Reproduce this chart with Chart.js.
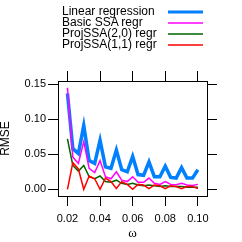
<!DOCTYPE html>
<html><head><meta charset="utf-8">
<script src="https://cdn.jsdelivr.net/npm/chart.js@4/dist/chart.umd.min.js"></script>
<style>
html,body{margin:0;padding:0;background:#fff;}
#wrap{position:relative;width:242px;height:242px;overflow:hidden;}
canvas{position:absolute;left:0;top:0;}
#legend{position:absolute;left:62px;top:6px;font:12px 'Liberation Sans',Arial,sans-serif;line-height:11px;color:#000;white-space:nowrap;}
#lg{position:absolute;left:0;top:0;}
</style></head>
<body><div id="wrap"><canvas id="c" width="242" height="242"></canvas>
<div id="legend"></div><svg id="lg" width="242" height="60"></svg></div>
<script>
const omega = [0.02, 0.0233, 0.0267, 0.03, 0.0333, 0.0367, 0.04, 0.0433, 0.0467, 0.05, 0.0533, 0.0567, 0.06, 0.0633, 0.0667, 0.07, 0.0733, 0.0767, 0.08, 0.0833, 0.0867, 0.09, 0.0933, 0.0967, 0.10];
const linearRegr = [0.137, 0.058, 0.051, 0.091, 0.041, 0.037, 0.070, 0.032, 0.030, 0.056, 0.028, 0.025, 0.047, 0.021, 0.020, 0.039, 0.018, 0.018, 0.033, 0.017, 0.016, 0.031, 0.016, 0.016, 0.028];
const basicSSA = [0.145, 0.046, 0.037, 0.068, 0.030, 0.024, 0.041, 0.018, 0.015, 0.025, 0.013, 0.011, 0.018, 0.010, 0.010, 0.016, 0.0085, 0.007, 0.011, 0.007, 0.0065, 0.0085, 0.006, 0.0055, 0.007];
const projSSA20 = [0.072, 0.034, 0.026, 0.034, 0.018, 0.015, 0.019, 0.011, 0.010, 0.013, 0.0085, 0.007, 0.0085, 0.006, 0.005, 0.006, 0.005, 0.004, 0.005, 0.004, 0.004, 0.004, 0.003, 0.003, 0.003];
const projSSA11 = [0.000, 0.038, 0.029, 0.000, 0.019, 0.015, 0.000, 0.016, 0.011, 0.001, 0.011, 0.007, 0.000, 0.007, 0.006, 0.001, 0.006, 0.005, 0.001, 0.005, 0.004, 0.001, 0.004, 0.004, 0.001];
const seriesNames = ['Linear regression', 'Basic SSA regr', 'ProjSSA(2,0) regr', 'ProjSSA(1,1) regr'];
const xTicks = [0.02, 0.04, 0.06, 0.08, 0.10];
const yTicks = [0.00, 0.05, 0.10, 0.15];
const xTitle = 'ω';
const yTitle = 'RMSE';

const colors = ['#0080ff', '#ff00ff', '#006400', '#ff0000'];
const widths = [3.5, 1.5, 1.5, 1.5];
const allSeries = [linearRegr, basicSSA, projSSA20, projSSA11];

// legend (HTML text + svg samples)
const leg = document.getElementById('legend');
const svg = document.getElementById('lg');
seriesNames.forEach((n, i) => {
  const d = document.createElement('div'); d.textContent = n; leg.appendChild(d);
  const y = 12 + 11 * i;
  const l = document.createElementNS('http://www.w3.org/2000/svg', 'line');
  l.setAttribute('x1', 168); l.setAttribute('x2', 203);
  l.setAttribute('y1', y); l.setAttribute('y2', y);
  l.setAttribute('stroke', colors[i]); l.setAttribute('stroke-width', i === 0 ? 3 : 1.5);
  svg.appendChild(l);
});

const xMin = 0.0142, xMax = 0.1056, yMin = -0.0096, yMax = 0.1547;
const tickFont = {family: "'Liberation Sans', Arial, sans-serif", size: 11};
function setTicks(arr) { return s => { s.ticks = arr.map(v => ({value: v})); }; }
function axis(pos, arr, showLabels, size, extra) {
  const horiz = pos === 'top' || pos === 'bottom';
  return Object.assign({
    type: 'linear', position: pos,
    min: horiz ? xMin : yMin, max: horiz ? xMax : yMax,
    afterBuildTicks: setTicks(arr),
    afterFit: s => { if (horiz) s.height = size; else s.width = size; },
    grid: {drawOnChartArea: false, drawTicks: true, tickLength: 10, color: '#000', tickWidth: 1},
    border: {display: true, color: '#000', width: 1},
    ticks: {display: showLabels, color: '#000', font: tickFont, padding: horiz ? 6 : 2,
      maxRotation: 0, autoSkip: false, callback: v => v.toFixed(2)}
  }, extra || {});
}

new Chart(document.getElementById('c'), {
  type: 'line',
  data: {
    datasets: allSeries.map((s, i) => ({
      label: seriesNames[i],
      data: omega.map((x, k) => ({x: x, y: s[k]})),
      borderColor: colors[i], borderWidth: widths[i],
      pointRadius: 0, tension: 0, fill: false, order: 4 - i
    }))
  },
  options: {
    responsive: false, animation: false, devicePixelRatio: 1,
    layout: {padding: 0},
    plugins: {legend: {display: false}, tooltip: {enabled: false}},
    scales: {
      x: axis('bottom', xTicks, true, 46, {title: {display: true, text: xTitle, color: '#000',
        font: {family: "'Liberation Serif', serif", size: 13, lineHeight: 1.2}, padding: {top: 0, bottom: 1}}}),
      x2: axis('top', xTicks, false, 81),
      y: axis('left', yTicks, true, 58, {title: {display: true, text: yTitle, color: '#000',
        font: {family: "'Liberation Sans', Arial, sans-serif", size: 12, lineHeight: 1}, padding: {top: 0, bottom: 0}}}),
      y2: axis('right', yTicks, false, 35)
    }
  }
});
</script>
</body></html>
